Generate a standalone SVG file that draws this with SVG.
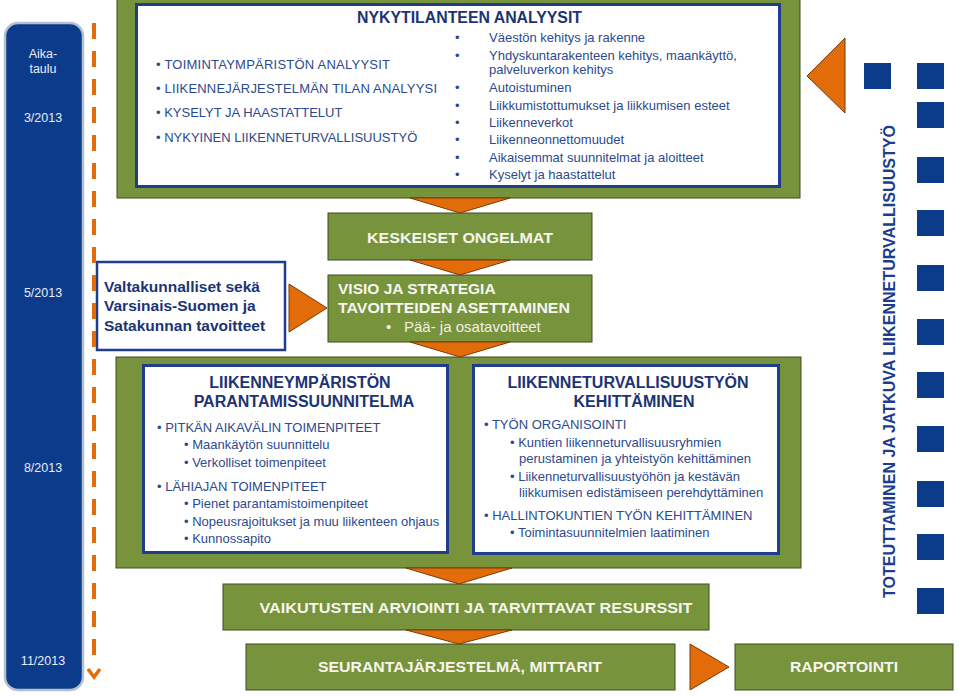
<svg xmlns="http://www.w3.org/2000/svg" width="960" height="696" viewBox="0 0 960 696">
<style>
text{font-family:"Liberation Sans",Arial,sans-serif}
.green{fill:#77933c;stroke:#3d4d1f;stroke-width:1}
.inner{fill:#ffffff;stroke:#1f3d8c;stroke-width:3}
.title{font-weight:bold;fill:#1c3474;font-size:16px}
.li{fill:#2c4a8e;font-size:13px}
.li2{fill:#2c4a8e;font-size:13px}
.wt{fill:#f6f6ee;font-weight:bold;font-size:15.5px}
.tri{fill:#e36c0a;stroke:#7b3a08;stroke-width:1}
.sq{fill:#0b3c8c}
.tl{fill:#e6ecf6;font-size:12.5px;text-anchor:middle}
.nav{fill:#1c3474;font-weight:bold;font-size:15.5px}
</style>
<rect x="0" y="0" width="960" height="696" fill="#ffffff"/>

<g id="timeline">
<rect x="5" y="23" width="78" height="667" rx="13" fill="#0d3b8b" stroke="#b4bfd0" stroke-width="2.5"/>
<text class="tl" x="43" y="58">Aika-</text>
<text class="tl" x="43" y="73">taulu</text>
<text class="tl" x="43" y="122">3/2013</text>
<text class="tl" x="43" y="297">5/2013</text>
<text class="tl" x="43" y="472">8/2013</text>
<text class="tl" x="43" y="665">11/2013</text>
</g>

<g id="nykytilanne">
<rect class="green" x="117" y="-2" width="683" height="200"/>
<rect class="inner" x="136.5" y="4.5" width="643" height="182"/>
<text class="title" x="357" y="23" font-size="15.5" textLength="225" lengthAdjust="spacingAndGlyphs">NYKYTILANTEEN ANALYYSIT</text>
<text class="li" x="156" y="69" textLength="234">• TOIMINTAYMPÄRISTÖN ANALYYSIT</text>
<text class="li" x="156" y="93" textLength="281">• LIIKENNEJÄRJESTELMÄN TILAN ANALYYSI</text>
<text class="li" x="156" y="117">• KYSELYT JA HAASTATTELUT</text>
<text class="li" x="156" y="142">• NYKYINEN LIIKENNETURVALLISUUSTYÖ</text>
<g class="li2">
<text x="455" y="42">•</text><text x="489" y="42">Väestön kehitys ja rakenne</text>
<text x="455" y="60">•</text><text x="489" y="60">Yhdyskuntarakenteen kehitys, maankäyttö,</text>
<text x="489" y="74">palveluverkon kehitys</text>
<text x="455" y="92">•</text><text x="489" y="92">Autoistuminen</text>
<text x="455" y="110">•</text><text x="489" y="110">Liikkumistottumukset ja liikkumisen esteet</text>
<text x="455" y="127">•</text><text x="489" y="127">Liikenneverkot</text>
<text x="455" y="144">•</text><text x="489" y="144">Liikenneonnettomuudet</text>
<text x="455" y="162">•</text><text x="489" y="162">Aikaisemmat suunnitelmat ja aloitteet</text>
<text x="455" y="179">•</text><text x="489" y="179">Kyselyt ja haastattelut</text>
</g>
</g>

<g id="keskeiset">
<rect class="green" x="328" y="213" width="264" height="47"/>
<text class="wt" x="460" y="243" text-anchor="middle" textLength="186" lengthAdjust="spacingAndGlyphs">KESKEISET ONGELMAT</text>
</g>

<g id="visio">
<rect class="green" x="328" y="275" width="264" height="67"/>
<text class="wt" x="338" y="294">VISIO JA STRATEGIA</text>
<text class="wt" x="338" y="313" textLength="232" lengthAdjust="spacingAndGlyphs">TAVOITTEIDEN ASETTAMINEN</text>
<text x="386" y="332" fill="#f0f0e6" font-size="15">•</text>
<text x="404" y="332" fill="#f0f0e6" font-size="15">Pää- ja osatavoitteet</text>
</g>

<g id="tavoitteet">
<rect x="97" y="262" width="188" height="88" fill="#ffffff" stroke="#1f3d8c" stroke-width="2.5"/>
<text class="nav" x="104" y="292">Valtakunnalliset sekä</text>
<text class="nav" x="104" y="311">Varsinais-Suomen ja</text>
<text class="nav" x="104" y="331">Satakunnan tavoitteet</text>
</g>

<g id="toimenpiteet">
<rect class="green" x="116" y="357" width="685" height="211"/>
</g>

<g id="liikenneymparisto">
<rect class="inner" x="143.5" y="365.5" width="304" height="187"/>
<text class="title" x="300" y="388" text-anchor="middle">LIIKENNEYMPÄRISTÖN</text>
<text class="title" x="304" y="407" text-anchor="middle">PARANTAMISSUUNNITELMA</text>
<text class="li" x="157" y="432">• PITKÄN AIKAVÄLIN TOIMENPITEET</text>
<text class="li" x="184" y="449">• Maankäytön suunnittelu</text>
<text class="li" x="184" y="467">• Verkolliset toimenpiteet</text>
<text class="li" x="157" y="491">• LÄHIAJAN TOIMENPITEET</text>
<text class="li" x="184" y="508">• Pienet parantamistoimenpiteet</text>
<text class="li" x="184" y="526">• Nopeusrajoitukset ja muu liikenteen ohjaus</text>
<text class="li" x="184" y="543">• Kunnossapito</text>
</g>

<g id="liikenneturvallisuustyo">
<rect class="inner" x="473.5" y="365.5" width="305" height="188"/>
<text class="title" x="628" y="388" text-anchor="middle">LIIKENNETURVALLISUUSTYÖN</text>
<text class="title" x="634" y="407" text-anchor="middle">KEHITTÄMINEN</text>
<text class="li" x="484" y="429">• TYÖN ORGANISOINTI</text>
<text class="li" x="510" y="447">• Kuntien liikenneturvallisuusryhmien</text>
<text class="li" x="519" y="463">perustaminen ja yhteistyön kehittäminen</text>
<text class="li" x="510" y="481">• Liikenneturvallisuustyöhön ja kestävän</text>
<text class="li" x="519" y="497">liikkumisen edistämiseen perehdyttäminen</text>
<text class="li" x="484" y="520">• HALLINTOKUNTIEN TYÖN KEHITTÄMINEN</text>
<text class="li" x="510" y="537">• Toimintasuunnitelmien laatiminen</text>
</g>

<g id="vaikutukset">
<rect class="green" x="223" y="584" width="486" height="46"/>
<text class="wt" x="476" y="613" text-anchor="middle" textLength="433" lengthAdjust="spacingAndGlyphs">VAIKUTUSTEN ARVIOINTI JA TARVITTAVAT RESURSSIT</text>
</g>

<g id="seuranta">
<rect class="green" x="246" y="644" width="429" height="46"/>
<text class="wt" x="460" y="672" text-anchor="middle" textLength="284" lengthAdjust="spacingAndGlyphs">SEURANTAJÄRJESTELMÄ, MITTARIT</text>
</g>

<g id="raportointi">
<rect class="green" x="735" y="644" width="218" height="46"/>
<text class="wt" x="844" y="672" text-anchor="middle" textLength="108" lengthAdjust="spacingAndGlyphs">RAPORTOINTI</text>
</g>

<g id="jatkuva">
<rect class="sq" x="864" y="63" width="27" height="26"/>
<rect class="sq" x="917" y="63" width="27" height="26"/>
<rect class="sq" x="917" y="102" width="27" height="26"/>
<rect class="sq" x="917" y="157" width="27" height="26"/>
<rect class="sq" x="917" y="210" width="27" height="26"/>
<rect class="sq" x="917" y="265" width="27" height="26"/>
<rect class="sq" x="917" y="319" width="27" height="26"/>
<rect class="sq" x="917" y="372" width="27" height="26"/>
<rect class="sq" x="917" y="426" width="27" height="26"/>
<rect class="sq" x="917" y="481" width="27" height="26"/>
<rect class="sq" x="917" y="534" width="27" height="26"/>
<rect class="sq" x="917" y="588" width="27" height="26"/>
<text transform="translate(895,361.5) rotate(-90)" x="0" y="0" text-anchor="middle" fill="#1c3c8c" font-weight="bold" font-size="16" textLength="473" lengthAdjust="spacingAndGlyphs">TOTEUTTAMINEN JA JATKUVA LIIKENNETURVALLISUUSTYÖ</text>
</g>

<g id="connectors">
<line x1="94" y1="23" x2="94" y2="664" stroke="#e36c0a" stroke-width="4" stroke-dasharray="16 12"/>
<polyline points="88,669 94,677 100,669" fill="none" stroke="#e36c0a" stroke-width="3.5"/>
<polygon class="tri" points="410,198 510,198 460,213"/>
<polygon class="tri" points="410,260 510,260 460,275"/>
<polygon class="tri" points="410,342 510,342 460,357"/>
<polygon class="tri" points="406,568 512,568 459,584"/>
<polygon class="tri" points="406,630 512,630 459,644"/>
<polygon class="tri" points="289,284 289,332 327,308"/>
<polygon class="tri" points="690,644 690,690 729,667"/>
<polygon class="tri" points="845,38 845,113 807,76"/>
</g>
</svg>
